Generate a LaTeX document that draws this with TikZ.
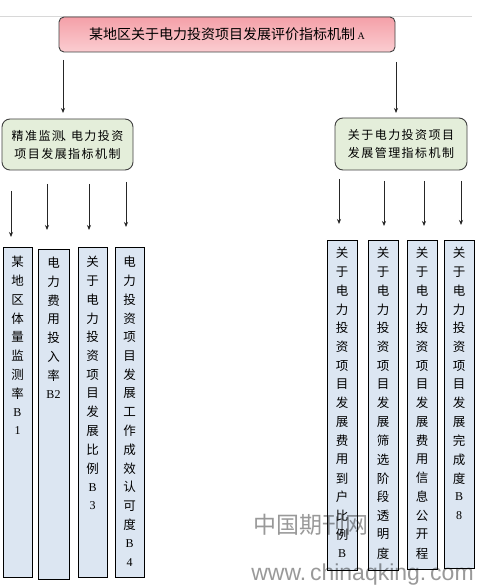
\documentclass[tikz,border=0pt]{standalone}
\usepackage{fontspec}
\usetikzlibrary{arrows.meta}
\newfontfamily\cjk{Noto Sans CJK SC}
\newfontfamily\cjks[LetterSpace=12]{Noto Sans CJK SC}
\newfontfamily\lat{Liberation Serif}
\newfontfamily\wmfont{Liberation Sans}
\definecolor{pinkT}{HTML}{F4A0A8}
\definecolor{pinkB}{HTML}{FBCDD1}
\definecolor{greenF}{HTML}{E4EEDA}
\definecolor{blueF}{HTML}{DCE6F2}
\definecolor{edgeG}{HTML}{404040}
\definecolor{lineG}{HTML}{D8D8D8}
\newcommand\la[1]{{\lat\fontsize{12}{14}\selectfont #1}}
\newcommand\vcol[4]{\foreach \c [count=\i] in {#4} \node[ch] (#1-\i) at (#2, {#3+(\i-1)*18.77}) {\c};}
\begin{document}
\begin{tikzpicture}[x=1pt,y=-1pt,
  topbox/.style={draw=edgeG, line width=0.9pt, rounded corners=5pt, top color=pinkT, bottom color=pinkB,
    minimum width=336pt, minimum height=35pt, inner sep=0pt, font=\cjk\fontsize{14}{16}\selectfont},
  midbox/.style={draw=edgeG, line width=0.9pt, rounded corners=8pt, fill=greenF, inner sep=0pt,
    align=center, font=\cjks\fontsize{12}{18}\selectfont},
  colbox/.style={draw=black, line width=0.9pt, fill=blueF, inner sep=0pt},
  ch/.style={inner sep=0pt, font=\cjk\fontsize{12.5}{15}\selectfont},
  arr/.style={-{Stealth[length=5pt,width=4pt]}, line width=0.8pt, draw=black!85},
  wmark/.style={inner sep=0pt, text=black, opacity=0.4}]
\useasboundingbox (0,0) rectangle (479,585);
\fill[white] (0,0) rectangle (479,585);
\draw[lineG, line width=1pt] (0,17) -- (472,17);
% top box
\node[topbox] (top) at (227,34.5) {某地区关于电力投资项目发展评价指标机制\,{\lat\fontsize{10}{12}\selectfont A}};
% middle boxes
\node[midbox, minimum width=131pt, minimum height=51pt] (ml) at (67.5,144.5)
  {精准监测\makebox[7pt][c]{、}电力投资\\项目发展指标机制};
\node[midbox, minimum width=132pt, minimum height=52pt] (mr) at (401,144)
  {关于电力投资项目\\发展管理指标机制};
% arrows from top
\coordinate (t1s) at (63,60);   \coordinate (t1e) at (63,113);
\coordinate (t2s) at (396,62);  \coordinate (t2e) at (396,113);
\draw[arr] (t1s) -- (t1e);
\draw[arr] (t2s) -- (t2e);
% column boxes
\node[colbox, minimum width=29pt, minimum height=330pt] (b1) at (17.5,412) {};
\node[colbox, minimum width=31pt, minimum height=330pt] (b2) at (53.5,414) {};
\node[colbox, minimum width=29pt, minimum height=330pt] (b3) at (92.5,412) {};
\node[colbox, minimum width=29pt, minimum height=330pt] (b4) at (129.5,412) {};
\node[colbox, minimum width=30pt, minimum height=330pt] (b5) at (342,405) {};
\node[colbox, minimum width=30pt, minimum height=330pt] (b6) at (383,405) {};
\node[colbox, minimum width=30pt, minimum height=329pt] (b7) at (422,404.5) {};
\node[colbox, minimum width=30pt, minimum height=328pt] (b8) at (459,404) {};
% column texts
\vcol{c1}{17.5}{262}{某,地,区,体,量,监,测,率,\la{B},\la{1}}
\vcol{c2}{53.5}{263}{电,力,费,用,投,入,率,\la{B2}}
\vcol{c3}{92.5}{262}{关,于,电,力,投,资,项,目,发,展,比,例,\la{B},\la{3}}
\vcol{c4}{129.5}{262}{电,力,投,资,项,目,发,展,工,作,成,效,认,可,度,\la{B},\la{4}}
\vcol{c5}{342}{253}{关,于,电,力,投,资,项,目,发,展,费,用,到,户,比,例,\la{B}}
\vcol{c6}{383}{253}{关,于,电,力,投,资,项,目,发,展,筛,选,阶,段,透,明,度}
\vcol{c7}{422}{253}{关,于,电,力,投,资,项,目,发,展,费,用,信,息,公,开,程}
\vcol{c8}{459}{253}{关,于,电,力,投,资,项,目,发,展,完,成,度,\la{B},\la{8}}
% arrows to columns
\coordinate (a1s) at (11,191);  \coordinate (a1e) at (11,237);
\coordinate (a2s) at (47,184);  \coordinate (a2e) at (47,230);
\coordinate (a3s) at (89,184);  \coordinate (a3e) at (89,230);
\coordinate (a4s) at (126,182); \coordinate (a4e) at (126,227);
\coordinate (a5s) at (339,179); \coordinate (a5e) at (339,224);
\coordinate (a6s) at (384,181); \coordinate (a6e) at (384,226);
\coordinate (a7s) at (424,181); \coordinate (a7e) at (424,226);
\coordinate (a8s) at (461,181); \coordinate (a8e) at (461,225);
\foreach \k in {1,...,8} \draw[arr] (a\k s) -- (a\k e);
% watermark
\node[wmark, font=\cjk\fontsize{23}{26}\selectfont] (wm1) at (311,525) {中国期刊网};
\node[wmark, font=\wmfont\fontsize{23}{26}\selectfont] (wm2) at (362.5,575) {www.\,chinaqking.\,com};
\end{tikzpicture}
\end{document}
